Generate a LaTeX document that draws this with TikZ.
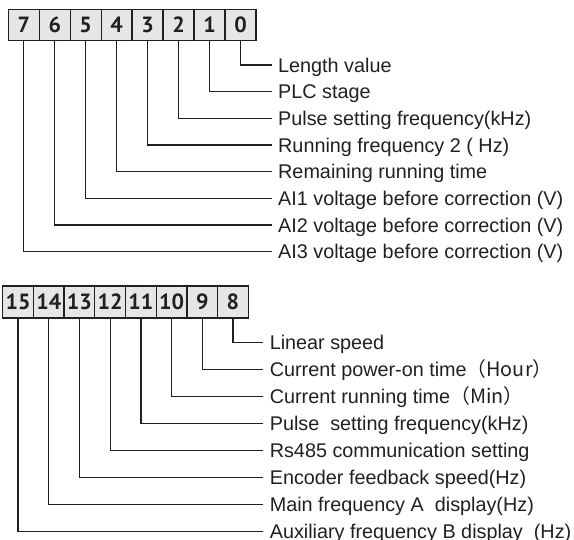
\documentclass[tikz,border=0pt]{standalone}
\usepackage{fontspec}
\setmainfont{Liberation Sans}
\newfontfamily\digitfont{PT Sans}
\newfontfamily\cjk{Noto Sans CJK SC}
\definecolor{boxgray}{HTML}{E6E6E6}
\definecolor{ink}{HTML}{231F20}
\begin{document}
\begin{tikzpicture}[x=1pt,y=-1pt,
  bit/.style={draw=ink, line width=1.3pt, fill=boxgray, text=ink,
    minimum width=30.96pt, minimum height=31.4pt, inner sep=0pt,
    font=\digitfont\bfseries\fontsize{22}{22}\selectfont},
  lbl/.style={anchor=west, inner xsep=6.3pt, inner ysep=0pt,
    text height=14.2pt, text depth=0pt, text=ink,
    font=\fontsize{19.8}{20}\selectfont},
  wire/.style={draw=ink, line width=1.3pt}]
\useasboundingbox (0,0) rectangle (574,540);
% top register
\foreach \i in {0,...,7}
  \node[bit] (b\i) at ({8.3+30.96*(7-\i)+15.48},25) {\i};
% bottom register
\foreach \i in {8,...,15}
  \node[bit, minimum width=30.7pt, minimum height=32pt] (b\i) at ({2.7+30.7*(15-\i)+15.35},302) {\i};
% labels top
\foreach \i/\t in {0/{Length value},1/{PLC stage},2/{Pulse setting frequency(kHz)},
  3/{Running frequency 2 ( Hz)},4/{Remaining running time},
  5/{AI1 voltage before correction (V)},6/{AI2 voltage before correction (V)},
  7/{AI3 voltage before correction (V)}}
  \node[lbl] (l\i) at (271.7,{65+26.67*\i}) {\t};
% labels bottom
\foreach \i/\t in {8/{Linear speed},9/{Current power-on time\cjk{（}Hour\cjk{）}},
  10/{Current running time\cjk{（}Min\cjk{）}},11/{Pulse\ \ setting frequency(kHz)},
  12/{Rs485 communication setting},13/{Encoder feedback speed(Hz)},
  14/{Main frequency A\ \ display(Hz)},15/{Auxiliary frequency B display\ \ (Hz)}}
  \node[lbl] (l\i) at (263.3,{342.7+27*(\i-8)}) {\t};
% connectors
\foreach \i in {0,...,15}
  \draw[wire] (b\i.south) |- (l\i.west);
\end{tikzpicture}
\end{document}
